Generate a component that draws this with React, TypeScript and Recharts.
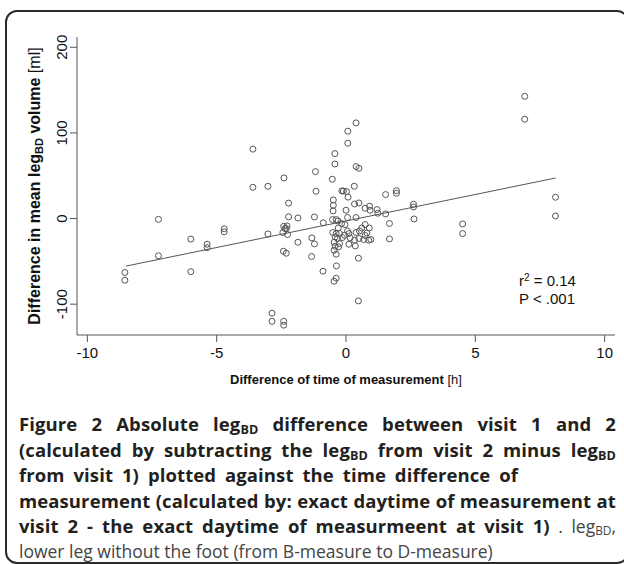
import React from "react";
import { ScatterChart, Scatter, XAxis, YAxis } from "recharts";

// 측정 시간 차이 [h] (visit 2 - visit 1)
const timeDiff = [
  -8.55, -8.55, -7.25, -7.25, -6.0, -6.0, -5.37, -5.37, -4.71, -4.71,
  -3.6, -3.6, -3.02, -3.02, -2.86, -2.86, -2.41, -2.41, -2.4, -2.22,
  -2.22, -2.41, -2.28, -2.36, -2.31, -2.44, -2.26, -2.42, -2.31, -1.86,
  -1.86, -1.32, -1.22, -1.33, -1.22, -1.18, -1.16, -0.89, -0.88, -0.53,
  -0.43, -0.43, -0.49, -0.49, -0.5, -0.52, -0.38, -0.31, -0.16, -0.1,
  0.02, 0.08, 0.07, 0.07, 0.39, 0.39, 0.5, 0.32, 0.33, 0.5,
  0.0, 0.06, 0.39, 0.74, 0.91, 0.93, 1.2, 1.23, 1.53, 1.53,
  1.95, 1.95, 1.68, 1.68, 2.61, 2.61, 2.63, -0.37, -0.38, -0.46,
  0.48, 0.48, -0.17, -0.04, -0.3, -0.51, -0.38, -0.25, 0.06, 0.11,
  0.39, 0.52, 0.61, 0.74, 0.9, 0.81, 0.74, -0.42, -0.33, -0.14,
  -0.06, 0.16, 0.33, 0.5, 0.68, 0.88, 0.96, -0.46, -0.25, 0.11,
  0.36, -0.42, -0.29, -0.46, -0.38, 4.51, 4.51, 8.1, 8.1, 6.91,
  6.91,
];

// 평균 하지 부피 차이 [ml]
const volumeDiff = [
  -63, -72, -1, -43.5, -24, -62, -30, -34, -12, -15.5,
  81, 36.5, 37.7, -18, -110.5, -120, -120, -124.5, 47.4, 18,
  2, -9, -8.6, -11.7, -11.7, -16.3, -18.7, -38.2, -40.5, 0.7,
  -27.7, -22.6, -29.6, -44.3, 1.9, 54.8, 31.9, -61.5, -5, 45.9,
  75.8, 63.7, 21.7, 15.5, 8.9, -1.2, -1.2, -2.8, 32.2, 32.2,
  31.5, 25, 102, 88, 111.7, 60.7, 58.7, 37.7, 17, 18.2,
  9.7, 1.2, 1.2, 12, 14.4, 9.7, 10.5, 6.2, 5.4, 28,
  32.5, 29.5, -5.8, -23.8, 16.7, 13.5, -0.5, -55.3, -69.7, -73.2,
  -46.3, -96.2, -5.8, -7, -11, -16.3, -17.5, -17.5, -14.5, -17.5,
  -16.3, -14.5, -11, -7, -11, -16.8, -19.8, -21.5, -23.3, -22.2,
  -19.5, -22.6, -25.3, -23.3, -24.5, -25.3, -24.5, -27.7, -29.2, -30,
  -32, -32.3, -33.1, -37, -41.7, -6.3, -17.5, 24.9, 3, 142.7,
  116,
];

// 회귀선 양 끝점
const trendX = [-8.5, 8.1];
const trendY = [-55.5, 47.3];

const xTicks = [-10, -5, 0, 5, 10];
const yTicks = [-100, 0, 100, 200];

const points = timeDiff.map((x, i) => ({ x, y: volumeDiff[i] }));
const trend = trendX.map((x, i) => ({ x, y: trendY[i] }));

const axisFont = "'Liberation Sans', Arial, sans-serif";
const captionFont = "'Open Sans', sans-serif";
const grey = "#555";

const OpenCircle = (props: any) => (
  <circle cx={props.cx} cy={props.cy} r={3} fill="none" stroke={grey} strokeWidth={1} />
);

const YTick = ({ x, y, payload }: any) => (
  <text
    x={x - 1}
    y={y}
    transform={`rotate(-90, ${x - 1}, ${y})`}
    textAnchor="middle"
    fontFamily={axisFont}
    fontSize={15}
    fill="#111"
  >
    {payload.value}
  </text>
);

const YTitle = () => (
  <text
    x={40}
    y={186}
    transform="rotate(-90, 40, 186)"
    textAnchor="middle"
    fontFamily={axisFont}
    fontSize={16}
    fontWeight="bold"
    fill="#111"
  >
    Difference in mean leg
    <tspan fontSize={11} dy={3}>BD</tspan>
    <tspan dy={-3}> volume </tspan>
    <tspan fontWeight="normal">[ml]</tspan>
  </text>
);

const XTitle = () => (
  <text
    x={346}
    y={384}
    textAnchor="middle"
    fontFamily={axisFont}
    fontSize={13}
    fontWeight="bold"
    fill="#111"
  >
    Difference of time of measurement <tspan fontWeight="normal">[h]</tspan>
  </text>
);

const Sub = ({ children }: { children: React.ReactNode }) => (
  <sub style={{ fontSize: "0.68em", verticalAlign: "-0.2em", lineHeight: 0 }}>{children}</sub>
);

const lineStyle = (justify: boolean): React.CSSProperties => ({
  whiteSpace: "nowrap",
  textAlign: justify ? "justify" : "left",
  textAlignLast: justify ? "justify" : "left",
  height: 25.6,
});

const bold: React.CSSProperties = { fontWeight: 700, fontSize: 18.5, letterSpacing: 0.1 };
const light: React.CSSProperties = { fontWeight: 400, fontSize: 17.5, color: "#444" };

export default function App() {
  return (
    <div
      style={{
        position: "absolute",
        left: 0,
        top: 0,
        width: 624,
        height: 564,
        background: "#fff",
        overflow: "hidden",
      }}
    >
      <div
        style={{
          position: "absolute",
          left: 5,
          top: 10,
          width: 620,
          height: 550,
          border: "2px solid #2a2a2a",
          borderRadius: 12,
        }}
      />
      <div style={{ position: "absolute", left: 0, top: 0 }}>
        <ScatterChart width={624} height={400} margin={{ top: 37, right: 9, left: 17, bottom: 35 }}>
          <XAxis
            type="number"
            dataKey="x"
            domain={[-10.4, 10.4]}
            ticks={xTicks}
            height={30}
            tickSize={7}
            tickMargin={5}
            stroke={grey}
            tick={{ fill: "#111", fontSize: 15, fontFamily: axisFont }}
            allowDataOverflow
          />
          <YAxis
            type="number"
            dataKey="y"
            domain={[-136, 212]}
            ticks={yTicks}
            width={60}
            tickSize={7}
            tickMargin={2}
            stroke={grey}
            tick={<YTick />}
            allowDataOverflow
          />
          <Scatter data={points} shape={<OpenCircle />} isAnimationActive={false} />
          <Scatter
            data={trend}
            line={{ stroke: grey, strokeWidth: 1 }}
            shape={() => null}
            isAnimationActive={false}
          />
          <XTitle />
          <YTitle />
        </ScatterChart>
      </div>
      <div
        style={{
          position: "absolute",
          left: 519,
          top: 272,
          fontFamily: axisFont,
          fontSize: 15,
          lineHeight: "18px",
          color: "#111",
        }}
      >
        <div>
          r<sup style={{ fontSize: 10, verticalAlign: "0.5em", lineHeight: 0 }}>2</sup> = 0.14
        </div>
        <div>P &lt; .001</div>
      </div>
      <div
        style={{
          position: "absolute",
          left: 19,
          top: 411,
          width: 597,
          fontFamily: captionFont,
          lineHeight: "25.6px",
          color: "#231f20",
        }}
      >
        <div style={{ ...lineStyle(true), ...bold }}>
          Figure 2 Absolute leg<Sub>BD</Sub> difference between visit 1 and 2
        </div>
        <div style={{ ...lineStyle(true), ...bold }}>
          (calculated by subtracting the leg<Sub>BD</Sub> from visit 2 minus leg<Sub>BD</Sub>
        </div>
        <div style={{ ...lineStyle(false), ...bold, wordSpacing: 4 }}>
          from visit 1) plotted against the time difference of
        </div>
        <div style={{ ...lineStyle(true), ...bold }}>
          measurement (calculated by: exact daytime of measurement at
        </div>
        <div style={{ ...lineStyle(true), fontSize: 18.5 }}>
          <span style={bold}>visit 2 - the exact daytime of measurmeent at visit 1)</span>
          <span style={light}> . leg<Sub>BD</Sub>,</span>
        </div>
        <div style={{ ...lineStyle(false), ...light }}>
          lower leg without the foot (from B-measure to D-measure)
        </div>
      </div>
    </div>
  );
}
